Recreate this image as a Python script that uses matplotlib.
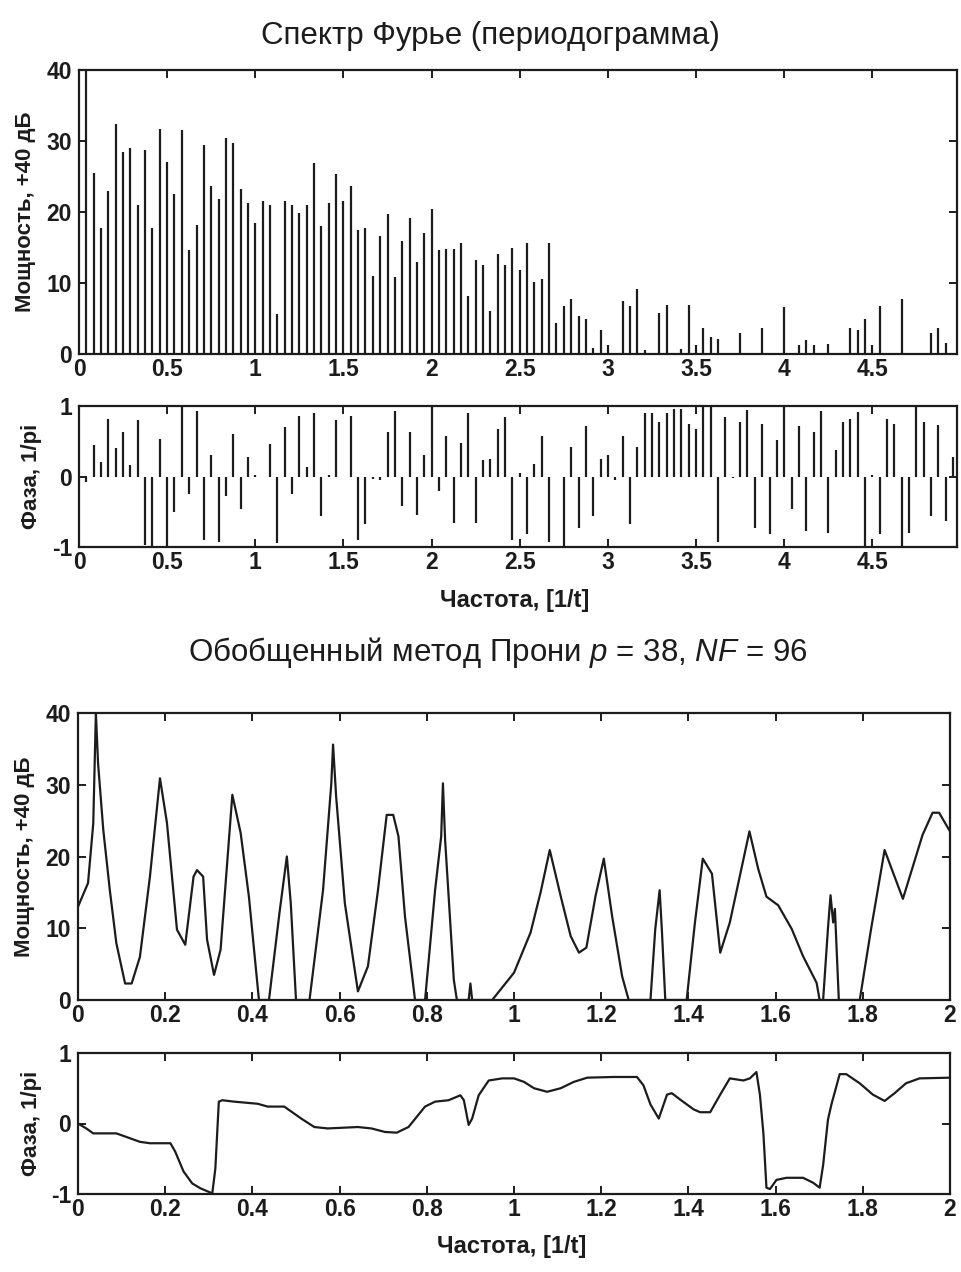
import numpy as np
import matplotlib
matplotlib.use("Agg")
import matplotlib.pyplot as plt

plt.rcParams['font.family'] = ['Liberation Sans', 'DejaVu Sans']
plt.rcParams['mathtext.fontset'] = 'custom'
plt.rcParams['mathtext.it'] = 'Liberation Sans:italic'
plt.rcParams['mathtext.rm'] = 'Liberation Sans'
plt.rcParams['axes.unicode_minus'] = False

# ---------------- data ----------------
# Periodogram: frequency index k (f = k/24), k = 1..119
fourier_step = 1.0 / 24.0
fourier_power = [
    40.0, 25.5, 17.7, 22.9, 32.4, 28.4, 29.0, 21.0, 28.7, 17.7,
    31.7, 27.0, 22.5, 31.5, 14.7, 18.1, 29.4, 23.7, 21.9, 30.4,
    29.7, 23.3, 21.2, 18.5, 21.5, 21.0, 5.6, 21.6, 21.0, 19.8,
    21.0, 26.9, 18.0, 21.2, 25.4, 21.5, 23.6, 17.5, 17.7, 11.0,
    16.6, 19.7, 10.8, 15.9, 19.1, 12.9, 17.0, 20.4, 14.6, 14.8,
    14.8, 15.7, 8.2, 13.3, 12.5, 6.1, 14.1, 12.5, 15.0, 11.8,
    15.7, 10.1, 10.6, 15.6, 4.4, 6.7, 7.8, 5.4, 4.9, 0.9,
    3.4, 1.2, 0.0, 7.5, 6.8, 9.2, 0.6, 0.0, 5.8, 6.9,
    0.0, 0.7, 6.9, 1.2, 3.6, 2.4, 2.1, 0.0, 0.0, 2.9,
    0.0, 0.0, 3.7, 0.0, 0.0, 6.6, 0.0, 1.2, 2.0, 1.2,
    0.0, 1.4, 0.0, 0.0, 3.7, 3.4, 4.9, 1.2, 6.7, 0.0,
    0.0, 7.7, 0.0, 0.0, 0.0, 2.9, 3.6, 1.6, 0.0,
]
fourier_phase = [
    -0.08, 0.44, 0.20, 0.81, 0.40, 0.63, 0.16, 0.80, -0.97, -1.00,
    0.53, -1.00, -0.50, 1.00, -0.25, 0.93, -0.90, 0.30, -0.93, -0.28,
    0.60, -0.46, 0.28, 0.02, 0.00, 0.46, -0.95, 0.70, -0.25, 0.86,
    0.14, 0.90, -0.56, 0.02, 0.80, 0.00, 0.86, -0.90, -0.68, -0.03,
    -0.05, 0.63, 0.93, -0.42, 0.63, -0.55, 0.30, 1.00, -0.20, 0.58,
    -0.66, 0.47, 0.90, -0.66, 0.23, 0.25, 0.68, 0.85, -0.90, 0.05,
    -0.82, 0.18, 0.58, -0.93, 0.00, -1.00, 0.42, -0.73, 0.72, -0.56,
    0.25, 0.30, -0.05, 0.57, -0.68, 0.42, 0.90, 0.90, 0.78, 0.90,
    0.96, 0.96, 0.75, 0.68, 1.00, 0.98, -0.93, 0.85, -0.02, 0.78,
    0.95, -0.73, 0.75, -0.82, 0.52, 1.00, -0.46, 0.72, -0.78, 0.63,
    0.93, -0.80, 0.37, 0.78, 0.82, 0.92, -1.00, 0.02, -0.82, 0.82,
    0.75, -0.98, -0.80, 0.99, 0.78, -0.56, 0.73, -0.63, 0.28,
]

# Prony spectrum (power)
prony_f = [0.0, 0.023, 0.035, 0.041, 0.046, 0.058, 0.073, 0.088, 0.108, 0.123,
           0.142, 0.165, 0.188, 0.204, 0.227, 0.246, 0.265, 0.273, 0.287, 0.296,
           0.312, 0.327, 0.354, 0.373, 0.392, 0.415, 0.438, 0.462, 0.479, 0.488,
           0.500, 0.531, 0.562, 0.581, 0.585, 0.592, 0.612, 0.642, 0.665, 0.688,
           0.708, 0.723, 0.735, 0.750, 0.773, 0.796, 0.819, 0.833, 0.837, 0.842,
           0.862, 0.869, 0.896, 0.900, 0.904, 0.950, 1.000, 1.038, 1.061, 1.082,
           1.107, 1.130, 1.149, 1.166, 1.187, 1.206, 1.225, 1.248, 1.263, 1.313,
           1.324, 1.334, 1.339, 1.347, 1.396, 1.415, 1.433, 1.454, 1.473, 1.495,
           1.540, 1.560, 1.579, 1.606, 1.637, 1.663, 1.694, 1.701, 1.709, 1.720,
           1.726, 1.732, 1.736, 1.745, 1.793, 1.819, 1.850, 1.892, 1.937, 1.960,
           1.975, 2.000]
prony_power = [13.0, 16.3, 24.6, 40.0, 33.0, 23.7, 15.3, 7.9, 2.3, 2.3,
               6.0, 17.2, 30.9, 24.7, 9.8, 7.7, 17.2, 18.1, 17.2, 8.4,
               3.5, 7.0, 28.6, 23.3, 14.4, 0.0, 0.0, 12.1, 20.0, 13.5,
               0.0, 0.0, 15.3, 30.2, 35.6, 28.4, 13.5, 1.2, 4.7, 15.3,
               25.8, 25.8, 22.8, 11.6, 0.0, 0.0, 15.3, 22.8, 30.2, 22.3,
               2.8, 0.0, 0.0, 2.3, 0.0, 0.0, 3.8, 9.4, 15.0, 20.9,
               14.5, 8.9, 6.6, 7.3, 14.5, 19.7, 11.7, 3.3, 0.0, 0.0,
               9.9, 15.3, 9.9, 0.0, 0.0, 10.8, 19.7, 17.6, 6.6, 10.8,
               23.5, 18.3, 14.4, 13.2, 9.9, 6.1, 2.4, 0.0, 0.0, 9.9,
               14.6, 10.8, 12.7, 0.0, 0.0, 9.9, 20.9, 14.1, 23.0, 26.1,
               26.1, 23.5]

# Prony phase
prony_ph_f = [0.0, 0.019, 0.035, 0.088, 0.142, 0.165, 0.212, 0.223, 0.242, 0.262,
              0.281, 0.300, 0.308, 0.315, 0.323, 0.331, 0.358, 0.412, 0.435, 0.473,
              0.512, 0.542, 0.573, 0.642, 0.673, 0.704, 0.731, 0.758, 0.796, 0.819,
              0.850, 0.877, 0.885, 0.896, 0.904, 0.919, 0.942, 0.973, 1.000, 1.023,
              1.046, 1.076, 1.107, 1.137, 1.168, 1.229, 1.282, 1.297, 1.313, 1.332,
              1.351, 1.362, 1.381, 1.412, 1.427, 1.450, 1.473, 1.495, 1.526, 1.541,
              1.556, 1.564, 1.572, 1.579, 1.587, 1.602, 1.625, 1.663, 1.686, 1.701,
              1.709, 1.720, 1.728, 1.747, 1.762, 1.793, 1.823, 1.850, 1.873, 1.899,
              1.930, 2.000]
prony_phase = [0.0, -0.07, -0.14, -0.14, -0.26, -0.28, -0.28, -0.40, -0.68, -0.85,
               -0.92, -0.97, -0.99, -0.64, 0.31, 0.33, 0.31, 0.28, 0.24, 0.24,
               0.07, -0.05, -0.07, -0.05, -0.07, -0.12, -0.13, -0.05, 0.24, 0.31,
               0.33, 0.40, 0.33, -0.02, 0.07, 0.40, 0.61, 0.64, 0.64, 0.59,
               0.50, 0.45, 0.50, 0.59, 0.65, 0.66, 0.66, 0.54, 0.27, 0.07,
               0.41, 0.43, 0.34, 0.20, 0.16, 0.16, 0.41, 0.64, 0.61, 0.64,
               0.73, 0.41, -0.14, -0.91, -0.93, -0.80, -0.77, -0.77, -0.84, -0.91,
               -0.59, 0.05, 0.27, 0.70, 0.70, 0.57, 0.41, 0.32, 0.43, 0.57,
               0.64, 0.65]

title_top = "Спектр Фурье (периодограмма)"
title_bottom = "Обобщенный метод Прони $p$ = 38, $NF$ = 96"
ylabel_power = "Мощность, +40 дБ"
ylabel_phase = "Фаза, 1/pi"
xlabel = "Частота, [1/t]"
xticks_top = [0, 0.5, 1, 1.5, 2, 2.5, 3, 3.5, 4, 4.5]
xticks_bottom = [0, 0.2, 0.4, 0.6, 0.8, 1, 1.2, 1.4, 1.6, 1.8, 2]

# ---------------- figure ----------------
W, H = 961, 1272
fig = plt.figure(figsize=(W / 100, H / 100), dpi=100)
INK = '#1c1c1c'
TICK_FS = 16.5
LAB_FS = 16


def add_ax(l, r, t, b):
    return fig.add_axes([l / W, 1 - b / H, (r - l) / W, (b - t) / H])


def style(ax):
    for s in ax.spines.values():
        s.set_linewidth(1.6)
        s.set_color(INK)
    ax.tick_params(direction='in', top=True, right=True, length=6, width=1.4,
                   labelsize=TICK_FS, colors=INK)
    ax.tick_params(axis='x', pad=3)
    ax.tick_params(axis='y', pad=5)
    for lab in ax.get_xticklabels() + ax.get_yticklabels():
        lab.set_fontweight('bold')


def fmt(v):
    return ('%g' % v)


def px_x(ax_left, ax_right, x):
    return (x - ax_left) / (ax_right - ax_left)


def px_y(ax_top, ax_bottom, y):
    return (ax_bottom - y) / (ax_bottom - ax_top)


fk = np.arange(1, len(fourier_power) + 1) * fourier_step

# top power
ax1 = add_ax(79, 957, 70, 354)
ax1.vlines(fk, 0, fourier_power, color=INK, linewidth=1.6)
ax1.set_xlim(0, 4.98)
ax1.set_ylim(0, 40)
ax1.set_xticks(xticks_top)
ax1.set_xticklabels([fmt(v) for v in xticks_top])
ax1.set_yticks([0, 10, 20, 30, 40])
ax1.set_yticklabels([fmt(v) for v in [0, 10, 20, 30, 40]])
ax1.set_ylabel(ylabel_power, fontsize=LAB_FS, fontweight='bold', color=INK, va='center')
ax1.yaxis.set_label_coords(px_x(79, 957, 26), 0.5)
style(ax1)

# top phase
ax2 = add_ax(79, 957, 406, 547)
ax2.vlines(fk, 0, fourier_phase, color=INK, linewidth=1.6)
ax2.set_xlim(0, 4.98)
ax2.set_ylim(-1, 1)
ax2.set_xticks(xticks_top)
ax2.set_xticklabels([fmt(v) for v in xticks_top])
ax2.set_yticks([-1, 0, 1])
ax2.set_yticklabels([fmt(v) for v in [-1, 0, 1]])
ax2.set_ylabel(ylabel_phase, fontsize=LAB_FS, fontweight='bold', color=INK, va='center')
ax2.yaxis.set_label_coords(px_x(79, 957, 32), 0.5)
ax2.set_xlabel(xlabel, fontsize=LAB_FS + 1, fontweight='bold', color=INK, va='center')
ax2.xaxis.set_label_coords(px_x(79, 957, 515), px_y(406, 547, 601))
style(ax2)

# bottom power
ax3 = add_ax(78, 950, 713, 1000)
ax3.plot(prony_f, prony_power, color=INK, linewidth=1.6)
ax3.set_xlim(0, 2)
ax3.set_ylim(0, 40)
ax3.set_xticks(xticks_bottom)
ax3.set_xticklabels([fmt(v) for v in xticks_bottom])
ax3.set_yticks([0, 10, 20, 30, 40])
ax3.set_yticklabels([fmt(v) for v in [0, 10, 20, 30, 40]])
ax3.set_ylabel(ylabel_power, fontsize=LAB_FS, fontweight='bold', color=INK, va='center')
ax3.yaxis.set_label_coords(px_x(78, 950, 25), 0.5)
style(ax3)

# bottom phase
ax4 = add_ax(78, 950, 1053, 1194)
ax4.plot(prony_ph_f, prony_phase, color=INK, linewidth=1.6)
ax4.set_xlim(0, 2)
ax4.set_ylim(-1, 1)
ax4.set_xticks(xticks_bottom)
ax4.set_xticklabels([fmt(v) for v in xticks_bottom])
ax4.set_yticks([-1, 0, 1])
ax4.set_yticklabels([fmt(v) for v in [-1, 0, 1]])
ax4.set_ylabel(ylabel_phase, fontsize=LAB_FS, fontweight='bold', color=INK, va='center')
ax4.yaxis.set_label_coords(px_x(78, 950, 31), 0.5)
ax4.set_xlabel(xlabel, fontsize=LAB_FS + 1, fontweight='bold', color=INK, va='center')
ax4.xaxis.set_label_coords(px_x(78, 950, 512), px_y(1053, 1194, 1246))
style(ax4)

fig.text(490 / W, 1 - 36 / H, title_top, ha='center', va='center', fontsize=22.5, color=INK)
fig.text(498 / W, 1 - 653 / H, title_bottom, ha='center', va='center', fontsize=22.5, color=INK)

fig.savefig('out.png', dpi=100, facecolor='white')
